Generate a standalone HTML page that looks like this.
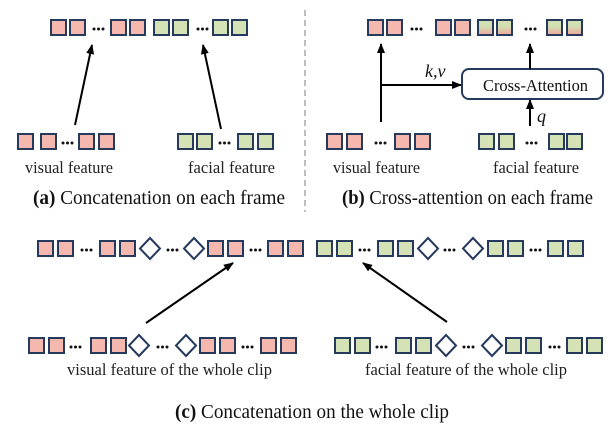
<!DOCTYPE html>
<html><head><meta charset="utf-8"><style>
html,body{margin:0;padding:0;background:#fff;}
svg{display:block;font-family:"Liberation Serif",serif;}
</style></head><body>
<svg width="614" height="432" viewBox="0 0 614 432" xmlns="http://www.w3.org/2000/svg">
<defs>
<linearGradient id="gr" x1="0" y1="0" x2="0" y2="1"><stop offset="0.4" stop-color="#d3e0b2"/><stop offset="1" stop-color="#eea89e"/></linearGradient>
<g id="P"><rect x="1" y="1" width="15" height="15" fill="#f4b8ae" stroke="#263a5e" stroke-width="2"/></g>
<g id="G"><rect x="1" y="1" width="15" height="15" fill="#d4e2b5" stroke="#263a5e" stroke-width="2"/></g>
<g id="M"><rect x="1" y="1" width="15" height="15" fill="url(#gr)" stroke="#263a5e" stroke-width="2"/></g>
<g id="D"><polygon points="11,-2 21,8.5 11,19 1,8.5" fill="#fff" stroke="#263a5e" stroke-width="2"/></g>
<g id="T" fill="#111"><circle cx="2" cy="10" r="1.5"/><circle cx="6.5" cy="10" r="1.5"/><circle cx="11" cy="10" r="1.5"/></g>
<marker id="ar" markerWidth="10" markerHeight="8" refX="9" refY="4" orient="auto" markerUnits="userSpaceOnUse"><path d="M0,0 L10,4 L0,8 z" fill="#000"/></marker>
</defs>

<line x1="305" y1="10" x2="305" y2="212" stroke="#aaa" stroke-width="1.5" stroke-dasharray="6,4"/>

<use href="#P" x="50" y="19"/><use href="#P" x="69" y="19"/><use href="#T" x="92" y="19"/>
<use href="#P" x="110" y="19"/><use href="#P" x="129" y="19"/>
<use href="#G" x="153" y="19"/><use href="#G" x="172" y="19"/><use href="#T" x="196" y="19"/>
<use href="#G" x="212" y="19"/><use href="#G" x="231" y="19"/>
<line x1="75" y1="125" x2="92" y2="45" stroke="#000" stroke-width="2" marker-end="url(#ar)"/>
<line x1="221" y1="129" x2="203" y2="45" stroke="#000" stroke-width="2" marker-end="url(#ar)"/>
<use href="#P" x="17" y="133"/><use href="#P" x="40" y="133"/><use href="#T" x="61" y="133"/>
<use href="#P" x="78" y="133"/><use href="#P" x="98" y="133"/>
<use href="#G" x="177" y="133"/><use href="#G" x="196" y="133"/><use href="#T" x="218" y="133"/>
<use href="#G" x="237" y="133"/><use href="#G" x="257" y="133"/>
<text x="25" y="173" font-size="16.5" textLength="88" lengthAdjust="spacingAndGlyphs" fill="#222">visual feature</text>
<text x="188" y="173" font-size="16.5" textLength="87" lengthAdjust="spacingAndGlyphs" fill="#222">facial feature</text>
<text x="33" y="204" font-size="19.5" textLength="252" lengthAdjust="spacingAndGlyphs" fill="#111"><tspan font-weight="bold">(a)</tspan> Concatenation on each frame</text>

<use href="#P" x="367" y="19"/><use href="#P" x="386" y="19"/><use href="#T" x="410" y="19"/>
<use href="#P" x="435" y="19"/><use href="#P" x="454" y="19"/>
<use href="#M" x="477" y="19"/><use href="#M" x="496" y="19"/><use href="#T" x="524" y="19"/>
<use href="#M" x="546" y="19"/><use href="#M" x="566" y="19"/>
<line x1="381" y1="122" x2="381" y2="44" stroke="#000" stroke-width="2" marker-end="url(#ar)"/>
<line x1="381" y1="85" x2="461" y2="85" stroke="#000" stroke-width="2" marker-end="url(#ar)"/>
<rect x="462" y="69" width="141" height="30" rx="7" fill="#fff" stroke="#263a5e" stroke-width="2"/>
<text x="483" y="91" font-size="17" textLength="105" lengthAdjust="spacingAndGlyphs" fill="#111">Cross-Attention</text>
<line x1="530" y1="69" x2="530" y2="44" stroke="#000" stroke-width="2" marker-end="url(#ar)"/>
<line x1="530" y1="126" x2="530" y2="100" stroke="#000" stroke-width="2" marker-end="url(#ar)"/>
<text x="425" y="77" font-size="18" font-style="italic" fill="#111">k,v</text>
<text x="537" y="122" font-size="18" font-style="italic" fill="#111">q</text>
<use href="#P" x="326" y="133"/><use href="#P" x="346" y="133"/><use href="#T" x="374" y="133"/>
<use href="#P" x="394" y="133"/><use href="#P" x="414" y="133"/>
<use href="#G" x="478" y="133"/><use href="#G" x="498" y="133"/><use href="#T" x="525" y="133"/>
<use href="#G" x="548" y="133"/><use href="#G" x="566" y="133"/>
<text x="333" y="173" font-size="16.5" textLength="87" lengthAdjust="spacingAndGlyphs" fill="#222">visual feature</text>
<text x="493" y="173" font-size="16.5" textLength="86" lengthAdjust="spacingAndGlyphs" fill="#222">facial feature</text>
<text x="342" y="204" font-size="19.5" textLength="251" lengthAdjust="spacingAndGlyphs" fill="#111"><tspan font-weight="bold">(b)</tspan> Cross-attention on each frame</text>

<use href="#P" x="37" y="240"/><use href="#P" x="57" y="240"/><use href="#T" x="80" y="240"/>
<use href="#P" x="99" y="240"/><use href="#P" x="119" y="240"/><use href="#D" x="139" y="240"/>
<use href="#T" x="166" y="240"/><use href="#D" x="183" y="240"/>
<use href="#P" x="207" y="240"/><use href="#P" x="227" y="240"/><use href="#T" x="249" y="240"/>
<use href="#P" x="267" y="240"/><use href="#P" x="287" y="240"/>
<use href="#G" x="316" y="240"/><use href="#G" x="336" y="240"/><use href="#T" x="358" y="240"/>
<use href="#G" x="377" y="240"/><use href="#G" x="397" y="240"/><use href="#D" x="417" y="240"/>
<use href="#T" x="443" y="240"/><use href="#D" x="462" y="240"/>
<use href="#G" x="487" y="240"/><use href="#G" x="507" y="240"/><use href="#T" x="529" y="240"/>
<use href="#G" x="547" y="240"/><use href="#G" x="567" y="240"/>
<line x1="146" y1="323" x2="233" y2="263" stroke="#000" stroke-width="2" marker-end="url(#ar)"/>
<line x1="447" y1="322" x2="363" y2="263" stroke="#000" stroke-width="2" marker-end="url(#ar)"/>
<use href="#P" x="28" y="337"/><use href="#P" x="48" y="337"/><use href="#T" x="69" y="337"/>
<use href="#P" x="90" y="337"/><use href="#P" x="110" y="337"/><use href="#D" x="128" y="337"/>
<use href="#T" x="156" y="337"/><use href="#D" x="175" y="337"/>
<use href="#P" x="199" y="337"/><use href="#P" x="219" y="337"/><use href="#T" x="241" y="337"/>
<use href="#P" x="260" y="337"/><use href="#P" x="280" y="337"/>
<use href="#G" x="334" y="337"/><use href="#G" x="354" y="337"/><use href="#T" x="375" y="337"/>
<use href="#G" x="395" y="337"/><use href="#G" x="415" y="337"/><use href="#D" x="435" y="337"/>
<use href="#T" x="462" y="337"/><use href="#D" x="481" y="337"/>
<use href="#G" x="505" y="337"/><use href="#G" x="525" y="337"/><use href="#T" x="548" y="337"/>
<use href="#G" x="566" y="337"/><use href="#G" x="586" y="337"/>
<text x="67" y="375" font-size="16.5" textLength="205" lengthAdjust="spacingAndGlyphs" fill="#222">visual feature of the whole clip</text>
<text x="365" y="375" font-size="16.5" textLength="202" lengthAdjust="spacingAndGlyphs" fill="#222">facial feature of the whole clip</text>
<text x="175" y="418" font-size="19.5" textLength="274" lengthAdjust="spacingAndGlyphs" fill="#111"><tspan font-weight="bold">(c)</tspan> Concatenation on the whole clip</text>
</svg>
</body></html>
